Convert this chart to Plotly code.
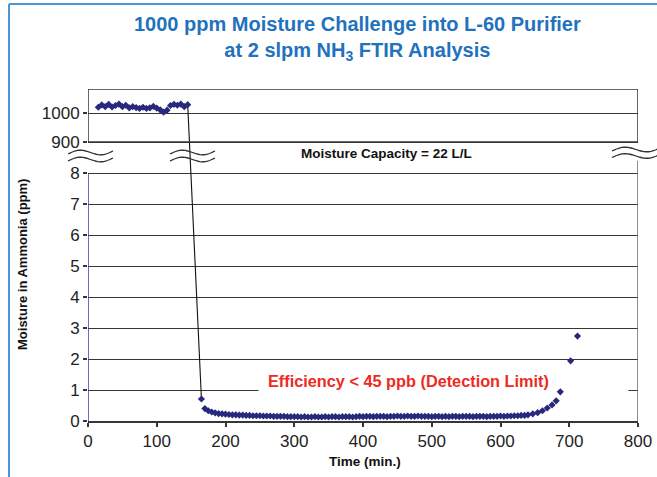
import math
import plotly.graph_objects as go

# ---------------- data ----------------
top_time = [15, 20, 25, 30, 35, 40, 45, 50, 55, 60, 65, 70, 75, 80, 85, 90, 95,
            100, 105, 110, 115, 120, 125, 130, 135, 140, 145]
top_ppm = [1020, 1028, 1022, 1030, 1021, 1026, 1031, 1022, 1027, 1018, 1022, 1019,
           1016, 1020, 1016, 1018, 1023, 1017, 1011, 1003, 1010, 1026, 1030, 1027,
           1031, 1022, 1029]

bot_time = [165, 170, 175, 180, 185, 190, 195, 200, 205, 210, 215, 220, 225, 230,
            235, 240, 245, 250, 255, 260, 265, 270, 275, 280, 285, 290, 295, 300,
            305, 310, 315, 320, 325, 330, 335, 340, 345, 350, 355, 360, 365, 370,
            375, 380, 385, 390, 395, 400, 405, 410, 415, 420, 425, 430, 435, 440,
            445, 450, 455, 460, 465, 470, 475, 480, 485, 490, 495, 500, 505, 510,
            515, 520, 525, 530, 535, 540, 545, 550, 555, 560, 565, 570, 575, 580,
            585, 590, 595, 600, 605, 610, 615, 620, 625, 630, 635, 640, 647, 654,
            661, 668, 675, 681, 687, 702, 712]
bot_ppm = [0.71, 0.40, 0.33, 0.29, 0.26, 0.24, 0.23, 0.22, 0.21, 0.20, 0.20, 0.19,
           0.19, 0.18, 0.18, 0.17, 0.17, 0.17, 0.16, 0.16, 0.16, 0.15, 0.15, 0.15,
           0.15, 0.14, 0.14, 0.14, 0.14, 0.13, 0.14, 0.13, 0.13, 0.14, 0.13, 0.13,
           0.14, 0.13, 0.14, 0.14, 0.13, 0.14, 0.14, 0.14, 0.13, 0.14, 0.15, 0.14,
           0.15, 0.15, 0.14, 0.15, 0.15, 0.15, 0.14, 0.15, 0.15, 0.16, 0.15, 0.15,
           0.16, 0.15, 0.15, 0.16, 0.15, 0.15, 0.15, 0.14, 0.15, 0.15, 0.14, 0.15,
           0.14, 0.15, 0.15, 0.14, 0.15, 0.15, 0.15, 0.14, 0.15, 0.15, 0.15, 0.14,
           0.15, 0.15, 0.15, 0.16, 0.15, 0.16, 0.16, 0.17, 0.17, 0.18, 0.18, 0.20,
           0.23, 0.27, 0.33, 0.42, 0.52, 0.65, 0.94, 1.94, 2.74]

low_ticks = [0, 1, 2, 3, 4, 5, 6, 7, 8]
high_ticks = [900, 1000]
x_ticks = [0, 100, 200, 300, 400, 500, 600, 700, 800]

# ---------------- broken-axis scale ----------------
LOW_MAX = 8.0          # top of lower panel
GAP = 1.0              # gap between panels (in lower-panel units)
HIGH_BASE = 900.0
HIGH_SCALE = 0.00935   # lower-panel units per ppm in upper panel
HIGH_TOP = 1083.0


def to_axis(v):
    if v >= HIGH_BASE:
        return LOW_MAX + GAP + (v - HIGH_BASE) * HIGH_SCALE
    return v


y_top = to_axis(HIGH_TOP)

FONT = "Arial, Liberation Sans, sans-serif"
NAVY = "#27287e"
GRID = "#363636"

fig = go.Figure()

# connecting line across the break
fig.add_trace(go.Scatter(
    x=[top_time[-1], bot_time[0]],
    y=[to_axis(top_ppm[-1]), to_axis(bot_ppm[0])],
    mode="lines", line=dict(color="#111111", width=1.1),
    hoverinfo="skip", showlegend=False))

fig.add_trace(go.Scatter(
    x=top_time, y=[to_axis(v) for v in top_ppm], customdata=top_ppm,
    mode="markers", marker=dict(symbol="diamond", size=5.5, color=NAVY),
    hovertemplate="%{x} min<br>%{customdata} ppm<extra></extra>",
    showlegend=False))

fig.add_trace(go.Scatter(
    x=bot_time, y=[to_axis(v) for v in bot_ppm], customdata=bot_ppm,
    mode="markers", marker=dict(symbol="diamond", size=5.5, color=NAVY),
    hovertemplate="%{x} min<br>%{customdata} ppm<extra></extra>",
    showlegend=False))

# ---------------- plot geometry (page pixels) ----------------
W, H = 657, 477
ML, MR, MT, MB = 88, 19, 89, 56
PW = W - ML - MR
PH = H - MT - MB


def px(xp):
    return (xp - ML) / PW


def py(yp):
    return (H - MB - yp) / PH


shapes = []

# white box behind the efficiency label (hides gridline)
shapes.append(dict(type="rect", xref="x", yref="y", x0=248, x1=786, y0=0.97, y1=1.7,
                   fillcolor="white", line=dict(width=0), layer="between"))

# upper panel frame
shapes.append(dict(type="rect", xref="x", yref="y", x0=0, x1=800,
                   y0=to_axis(HIGH_BASE), y1=y_top,
                   line=dict(color=GRID, width=1.5), layer="above"))
# lower panel left (blue) and right borders
shapes.append(dict(type="line", xref="x", yref="y", x0=0, x1=0, y0=0, y1=LOW_MAX,
                   line=dict(color="#3a3aa8", width=1.5)))
shapes.append(dict(type="line", xref="x", yref="y", x0=800, x1=800, y0=0, y1=LOW_MAX + 0.4,
                   line=dict(color="#666666", width=1.5)))


def wave(x0p, x1p, ycp, amp=3.0, n=24):
    pts = []
    for i in range(n + 1):
        s = i / n
        xx = x0p + (x1p - x0p) * s
        yy = ycp - amp * math.sin(2 * math.pi * s) + 1.5 * (0.5 - s) * 2
        pts.append((px(xx), py(yy)))
    d = "M " + " L ".join(f"{a:.5f},{b:.5f}" for a, b in pts)
    return dict(type="path", xref="paper", yref="paper", path=d,
                line=dict(color="#333333", width=1.3))


for (a, b, c1, c2) in [(68, 113, 152.5, 159.5), (170, 215, 152.5, 159.5),
                       (612, 660, 149.5, 156)]:
    shapes.append(wave(a, b, c1))
    shapes.append(wave(a, b, c2))

# light-blue outer frame (left and top)
shapes.append(dict(type="line", xref="paper", yref="paper",
                   x0=px(9), x1=px(9), y0=py(4), y1=py(480),
                   line=dict(color="#4a96d8", width=2)))
shapes.append(dict(type="line", xref="paper", yref="paper",
                   x0=px(9), x1=px(660), y0=py(4), y1=py(4),
                   line=dict(color="#4a96d8", width=2)))

annotations = [
    dict(xref="paper", yref="paper", x=px(357), y=py(11), xanchor="center", yanchor="top",
         text="<b>1000 ppm Moisture Challenge into L-60 Purifier<br>"
              "at 2 slpm NH<sub>3</sub> FTIR Analysis</b>",
         showarrow=False, font=dict(family=FONT, size=20, color="#1f72bd")),
    dict(xref="paper", yref="paper", x=px(386), y=py(153), xanchor="center", yanchor="middle",
         text="<b>Moisture Capacity = 22 L/L</b>", showarrow=False,
         font=dict(family=FONT, size=13.5, color="#111111")),
    dict(xref="x", yref="y", x=466, y=1.3, xanchor="center", yanchor="middle",
         text="<b>Efficiency < 45 ppb (Detection Limit)</b>", showarrow=False,
         font=dict(family=FONT, size=16.3, color="#ee2a24")),
    dict(xref="paper", yref="paper", x=px(22), y=py(265), xanchor="center", yanchor="middle",
         text="<b>Moisture in Ammonia (ppm)</b>", textangle=-90, showarrow=False,
         font=dict(family=FONT, size=13, color="#111111")),
    dict(xref="paper", yref="paper", x=px(365), y=py(461), xanchor="center", yanchor="middle",
         text="<b>Time (min.)</b>", showarrow=False,
         font=dict(family=FONT, size=13.5, color="#111111")),
]

fig.update_layout(
    template="none",
    width=W, height=H,
    margin=dict(l=ML, r=MR, t=MT, b=MB, autoexpand=False),
    paper_bgcolor="white", plot_bgcolor="white",
    showlegend=False,
    shapes=shapes, annotations=annotations,
    xaxis=dict(range=[0, 800], tickvals=x_ticks, ticktext=[str(v) for v in x_ticks],
               automargin=False,
               showgrid=False, zeroline=False, showline=True, linecolor=GRID, linewidth=1.5,
               ticks="outside", ticklen=4, tickcolor=GRID, tickwidth=1.5,
               tickfont=dict(family=FONT, size=17, color="#222222")),
    yaxis=dict(range=[0, y_top], automargin=False,
               tickvals=[to_axis(v) for v in low_ticks] + [to_axis(v) for v in high_ticks],
               ticktext=[str(v) for v in low_ticks] + [str(v) for v in high_ticks],
               showgrid=True, gridcolor=GRID, gridwidth=1.4, zeroline=False,
               showline=False, ticks="outside", ticklen=4, tickcolor=GRID, tickwidth=1.5,
               tickfont=dict(family=FONT, size=17, color="#222222")),
)

fig.write_html("out.html", config={"displayModeBar": False},
               post_script="document.body.style.margin='0px';document.body.style.overflow='hidden';")
